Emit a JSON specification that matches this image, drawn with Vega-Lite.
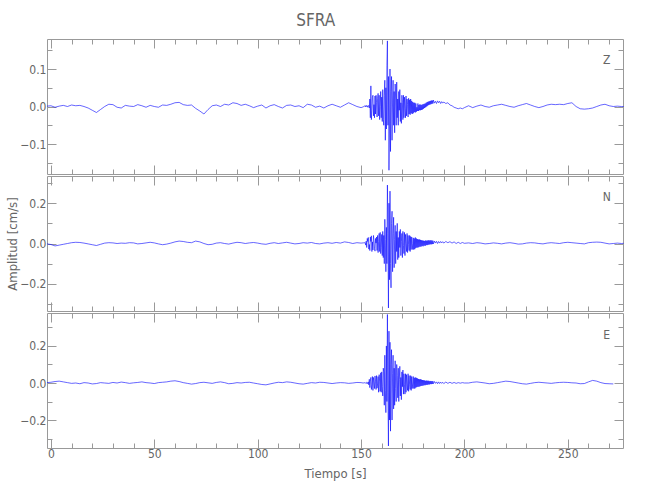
{
  "$schema": "https://vega.github.io/schema/vega-lite/v6.json",
  "padding": {"left": 6, "top": 11, "right": 20, "bottom": 18},
  "title": {"text": "SFRA", "fontSize": 17, "fontWeight": "normal", "color": "#666", "anchor": "middle", "offset": 9},
  "datasets": {
    "sig": [
      {"t":-1.9,"z":0.001,"n":-0.002,"e":0.002},
      {"t":0,"z":0.002,"n":-0.005,"e":0.004},{"t":2,"z":-0.002,"n":-0.012,"e":0.008},{"t":4,"z":0.001,"n":-0.008,"e":0.01},{"t":6,"z":0.003,"n":-0.004,"e":0.006},{"t":8,"z":0.0,"n":0.0,"e":0.002},
      {"t":10,"z":0.004,"n":0.004,"e":-0.002},{"t":12,"z":0.002,"n":0.006,"e":0.0},{"t":14,"z":0.003,"n":0.005,"e":-0.004},{"t":16,"z":0.0,"n":0.002,"e":0.002},{"t":18,"z":-0.004,"n":-0.002,"e":0.0},
      {"t":20,"z":-0.01,"n":-0.006,"e":-0.005},{"t":22,"z":-0.016,"n":-0.01,"e":-0.003},{"t":24,"z":-0.008,"n":-0.004,"e":0.002},{"t":26,"z":0.0,"n":0.002,"e":0.0},{"t":28,"z":0.006,"n":0.004,"e":-0.002},
      {"t":30,"z":0.005,"n":0.003,"e":0.003},{"t":32,"z":-0.002,"n":0.0,"e":0.0},{"t":34,"z":-0.004,"n":0.002,"e":0.005},{"t":36,"z":0.003,"n":0.001,"e":0.002},{"t":38,"z":0.001,"n":0.004,"e":-0.002},
      {"t":40,"z":0.0,"n":0.003,"e":0.001},{"t":42,"z":0.005,"n":-0.002,"e":0.003},{"t":44,"z":0.002,"n":0.0,"e":0.006},{"t":46,"z":-0.002,"n":0.003,"e":0.002},{"t":48,"z":0.003,"n":0.006,"e":0.0},
      {"t":50,"z":0.0,"n":0.003,"e":-0.003},{"t":52,"z":-0.002,"n":-0.002,"e":0.002},{"t":54,"z":0.004,"n":-0.006,"e":0.004},{"t":56,"z":0.003,"n":-0.003,"e":0.006},{"t":58,"z":0.006,"n":0.002,"e":0.01},
      {"t":60,"z":0.01,"n":0.008,"e":0.012},{"t":62,"z":0.011,"n":0.012,"e":0.008},{"t":64,"z":0.005,"n":0.01,"e":0.002},{"t":66,"z":0.003,"n":0.006,"e":-0.002},{"t":68,"z":0.004,"n":0.004,"e":-0.006},
      {"t":70,"z":-0.005,"n":0.012,"e":-0.003},{"t":72,"z":-0.012,"n":0.008,"e":0.002},{"t":74,"z":-0.02,"n":0.0,"e":0.004},{"t":76,"z":-0.008,"n":-0.006,"e":0.001},{"t":78,"z":0.002,"n":-0.004,"e":-0.002},
      {"t":80,"z":0.004,"n":0.002,"e":0.003},{"t":82,"z":0.0,"n":0.004,"e":0.006},{"t":84,"z":0.006,"n":0.0,"e":0.002},{"t":86,"z":0.004,"n":-0.003,"e":-0.004},{"t":88,"z":0.01,"n":0.002,"e":-0.002},
      {"t":90,"z":0.008,"n":0.006,"e":0.002},{"t":92,"z":0.003,"n":0.004,"e":0.0},{"t":94,"z":0.006,"n":0.0,"e":0.003},{"t":96,"z":0.002,"n":0.003,"e":0.004},{"t":98,"z":-0.003,"n":0.005,"e":0.0},
      {"t":100,"z":0.001,"n":0.002,"e":-0.004},{"t":102,"z":0.004,"n":-0.002,"e":-0.008},{"t":104,"z":-0.004,"n":-0.004,"e":-0.01},{"t":106,"z":0.002,"n":0.001,"e":-0.005},{"t":108,"z":0.005,"n":0.004,"e":0.0},
      {"t":110,"z":0.0,"n":0.0,"e":0.004},{"t":112,"z":-0.004,"n":0.003,"e":0.002},{"t":114,"z":0.003,"n":0.006,"e":0.006},{"t":116,"z":0.004,"n":0.002,"e":0.004},{"t":118,"z":0.0,"n":-0.002,"e":0.0},
      {"t":120,"z":0.002,"n":0.0,"e":-0.004},{"t":122,"z":-0.003,"n":0.004,"e":-0.006},{"t":124,"z":0.006,"n":0.002,"e":-0.002},{"t":126,"z":0.004,"n":0.005,"e":0.002},{"t":128,"z":-0.002,"n":0.0,"e":0.0},
      {"t":130,"z":0.001,"n":-0.002,"e":0.004},{"t":132,"z":-0.004,"n":0.002,"e":0.003},{"t":134,"z":0.002,"n":0.004,"e":0.0},{"t":136,"z":0.006,"n":0.001,"e":-0.003},{"t":138,"z":0.002,"n":0.005,"e":0.0},
      {"t":140,"z":-0.002,"n":0.002,"e":0.002},{"t":142,"z":0.004,"n":0.008,"e":0.001},{"t":144,"z":0.01,"n":0.005,"e":-0.002},{"t":146,"z":0.005,"n":0.0,"e":0.0},{"t":148,"z":0.0,"n":0.004,"e":0.003},
      {"t":150,"z":-0.003,"n":0.002,"e":0.002},{"t":151,"z":-0.001,"n":0.003,"e":0.0},
      {"t":152,"z":0.002,"n":0.004,"e":0.002},{"t":152.25,"z":-0.001,"n":-0.008,"e":0.0},{"t":152.5,"z":0.003,"n":0.012,"e":-0.003},{"t":152.75,"z":0.0,"n":-0.02,"e":0.004},
      {"t":153,"z":0.002,"n":0.025,"e":0.002},{"t":153.25,"z":-0.002,"n":0.01,"e":-0.004},{"t":153.5,"z":0.001,"n":0.03,"e":0.006},{"t":153.75,"z":0.003,"n":-0.028,"e":-0.01},
      {"t":154,"z":-0.004,"n":-0.005,"e":0.02},{"t":154.25,"z":0.02,"n":-0.035,"e":-0.025},{"t":154.5,"z":-0.03,"n":0.032,"e":0.01},{"t":154.75,"z":0.055,"n":0.01,"e":0.03},
      {"t":155,"z":-0.035,"n":0.038,"e":-0.035},{"t":155.25,"z":-0.01,"n":-0.04,"e":-0.01},{"t":155.5,"z":0.025,"n":0.008,"e":0.035},{"t":155.75,"z":0.03,"n":-0.032,"e":-0.04},
      {"t":156,"z":-0.025,"n":0.04,"e":0.03},{"t":156.25,"z":0.005,"n":0.015,"e":0.005},{"t":156.5,"z":-0.03,"n":-0.025,"e":-0.03},{"t":156.75,"z":0.028,"n":-0.038,"e":0.038},
      {"t":157,"z":-0.02,"n":0.025,"e":0.01},{"t":157.25,"z":0.03,"n":0.002,"e":-0.035},{"t":157.5,"z":0.01,"n":0.032,"e":0.04},{"t":157.75,"z":-0.028,"n":-0.035,"e":-0.028},
      {"t":158,"z":0.022,"n":0.04,"e":-0.005},{"t":158.25,"z":0.035,"n":-0.045,"e":0.035},{"t":158.5,"z":-0.025,"n":0.01,"e":-0.05},{"t":158.75,"z":0.03,"n":0.05,"e":0.045},
      {"t":159,"z":-0.035,"n":-0.04,"e":0.01},{"t":159.25,"z":0.0,"n":0.055,"e":-0.045},{"t":159.5,"z":0.04,"n":-0.05,"e":0.055},{"t":159.75,"z":-0.03,"n":-0.02,"e":-0.05},
      {"t":160,"z":0.025,"n":0.045,"e":0.06},{"t":160.25,"z":-0.04,"n":-0.06,"e":-0.02},{"t":160.5,"z":0.045,"n":0.06,"e":-0.07},{"t":160.75,"z":-0.035,"n":-0.07,"e":0.08},
      {"t":161,"z":-0.05,"n":0.04,"e":0.06},{"t":161.25,"z":0.03,"n":-0.1,"e":-0.12},{"t":161.5,"z":0.07,"n":0.12,"e":0.15},{"t":161.75,"z":-0.09,"n":0.02,"e":-0.04},
      {"t":162,"z":0.05,"n":-0.14,"e":-0.16},{"t":162.25,"z":-0.06,"n":0.08,"e":0.2},{"t":162.5,"z":0.11,"n":-0.1,"e":-0.1},{"t":162.75,"z":0.175,"n":0.29,"e":0.37},
      {"t":163,"z":-0.05,"n":0.05,"e":-0.05},{"t":163.25,"z":0.08,"n":-0.32,"e":-0.34},{"t":163.5,"z":-0.17,"n":0.2,"e":0.28},{"t":163.75,"z":-0.06,"n":-0.18,"e":-0.2},
      {"t":164,"z":0.1,"n":0.26,"e":0.22},{"t":164.25,"z":-0.12,"n":-0.1,"e":-0.26},{"t":164.5,"z":0.04,"n":-0.22,"e":0.1},{"t":164.75,"z":0.08,"n":0.1,"e":0.18},
      {"t":165,"z":-0.09,"n":0.16,"e":-0.2},{"t":165.25,"z":0.02,"n":-0.14,"e":0.05},{"t":165.5,"z":0.07,"n":0.05,"e":0.15},{"t":165.75,"z":-0.05,"n":0.13,"e":-0.14},
      {"t":166,"z":0.04,"n":-0.12,"e":0.08},{"t":166.25,"z":-0.07,"n":0.02,"e":-0.12},{"t":166.5,"z":0.06,"n":0.09,"e":0.12},{"t":166.75,"z":0.02,"n":-0.1,"e":-0.03},
      {"t":167,"z":-0.05,"n":0.06,"e":-0.1},{"t":167.25,"z":0.065,"n":-0.04,"e":0.1},{"t":167.5,"z":-0.03,"n":0.1,"e":0.04},{"t":167.75,"z":0.02,"n":-0.08,"e":-0.08},
      {"t":168,"z":-0.05,"n":0.03,"e":0.08},{"t":168.25,"z":0.04,"n":-0.07,"e":-0.1},{"t":168.5,"z":-0.01,"n":0.06,"e":0.02},{"t":168.75,"z":0.045,"n":-0.02,"e":0.09},
      {"t":169,"z":-0.04,"n":0.07,"e":-0.07},{"t":169.25,"z":0.01,"n":-0.06,"e":0.03},{"t":169.5,"z":-0.045,"n":0.01,"e":-0.09},{"t":169.75,"z":0.03,"n":0.05,"e":0.06},
      {"t":170,"z":0.01,"n":-0.07,"e":-0.02},{"t":170.25,"z":-0.035,"n":0.06,"e":0.07},{"t":170.5,"z":0.03,"n":-0.01,"e":-0.06},{"t":170.75,"z":-0.03,"n":-0.05,"e":0.05},
      {"t":171,"z":0.025,"n":0.055,"e":-0.01},{"t":171.25,"z":-0.005,"n":-0.06,"e":-0.06},{"t":171.5,"z":-0.03,"n":0.045,"e":0.05},{"t":171.75,"z":0.028,"n":0.0,"e":-0.05},
      {"t":172,"z":-0.025,"n":-0.04,"e":0.045},{"t":172.25,"z":0.02,"n":0.05,"e":0.0},{"t":172.5,"z":0.005,"n":-0.045,"e":-0.04},{"t":172.75,"z":-0.028,"n":0.04,"e":0.05},
      {"t":173,"z":0.022,"n":-0.005,"e":-0.045},{"t":173.25,"z":-0.02,"n":-0.035,"e":0.04},{"t":173.5,"z":0.018,"n":0.04,"e":-0.01},{"t":173.75,"z":-0.022,"n":-0.04,"e":-0.035},
      {"t":174,"z":0.02,"n":0.035,"e":0.04},{"t":174.25,"z":-0.018,"n":-0.03,"e":-0.04},{"t":174.5,"z":0.015,"n":0.032,"e":0.035},{"t":174.75,"z":-0.02,"n":0.0,"e":-0.03},
      {"t":175,"z":0.012,"n":-0.03,"e":0.0},{"t":175.25,"z":-0.018,"n":0.028,"e":0.035},{"t":175.5,"z":0.01,"n":-0.03,"e":-0.03},{"t":175.75,"z":-0.015,"n":0.025,"e":0.028},
      {"t":176,"z":0.01,"n":-0.028,"e":-0.03},{"t":176.25,"z":-0.016,"n":0.03,"e":0.03},{"t":176.5,"z":0.008,"n":-0.022,"e":-0.025},{"t":176.75,"z":-0.014,"n":0.025,"e":0.028},
      {"t":177,"z":-0.002,"n":-0.02,"e":-0.022},{"t":177.25,"z":-0.012,"n":0.022,"e":0.025},{"t":177.5,"z":0.008,"n":-0.02,"e":-0.02},{"t":177.75,"z":-0.012,"n":0.02,"e":0.022},
      {"t":178,"z":0.004,"n":-0.018,"e":-0.02},{"t":178.25,"z":-0.01,"n":0.02,"e":0.02},{"t":178.5,"z":0.006,"n":-0.015,"e":-0.018},{"t":178.75,"z":-0.01,"n":0.018,"e":0.02},
      {"t":179,"z":0.004,"n":-0.016,"e":-0.016},{"t":179.25,"z":-0.009,"n":0.016,"e":0.018},{"t":179.5,"z":0.005,"n":-0.012,"e":-0.015},{"t":179.75,"z":-0.008,"n":0.015,"e":0.016},
      {"t":180,"z":0.006,"n":-0.014,"e":-0.014},{"t":180.25,"z":-0.006,"n":0.014,"e":0.015},{"t":180.5,"z":0.007,"n":-0.01,"e":-0.012},{"t":180.75,"z":-0.004,"n":0.013,"e":0.014},
      {"t":181,"z":0.008,"n":-0.012,"e":-0.012},{"t":181.25,"z":-0.002,"n":0.015,"e":0.012},{"t":181.5,"z":0.01,"n":-0.008,"e":-0.01},{"t":181.75,"z":0.0,"n":0.014,"e":0.013},
      {"t":182,"z":0.012,"n":-0.008,"e":-0.01},{"t":182.25,"z":0.002,"n":0.015,"e":0.012},{"t":182.5,"z":0.013,"n":-0.006,"e":-0.008},{"t":182.75,"z":0.004,"n":0.016,"e":0.012},
      {"t":183,"z":0.014,"n":-0.005,"e":-0.008},{"t":183.25,"z":0.005,"n":0.015,"e":0.01},{"t":183.5,"z":0.015,"n":-0.004,"e":-0.006},{"t":183.75,"z":0.006,"n":0.016,"e":0.011},
      {"t":184,"z":0.016,"n":-0.004,"e":-0.006},{"t":184.25,"z":0.007,"n":0.015,"e":0.01},{"t":184.5,"z":0.016,"n":-0.003,"e":-0.005},{"t":184.75,"z":0.008,"n":0.014,"e":0.01},
      {"t":185,"z":0.017,"n":-0.002,"e":-0.004},
      {"t":185.5,"z":0.009,"n":0.012,"e":0.008},{"t":186,"z":0.014,"n":0.002,"e":-0.002},{"t":186.5,"z":0.008,"n":0.011,"e":0.006},{"t":187,"z":0.015,"n":0.0,"e":-0.004},{"t":187.5,"z":0.01,"n":0.01,"e":0.006},
      {"t":188,"z":0.014,"n":0.002,"e":-0.003},{"t":188.5,"z":0.008,"n":0.01,"e":0.005},{"t":189,"z":0.013,"n":0.003,"e":-0.002},{"t":189.5,"z":0.009,"n":0.009,"e":0.004},{"t":190,"z":0.012,"n":0.002,"e":-0.003},
      {"t":191,"z":0.008,"n":0.01,"e":0.005},{"t":192,"z":0.01,"n":0.004,"e":-0.002},{"t":193,"z":0.004,"n":0.009,"e":0.004},{"t":194,"z":0.002,"n":0.002,"e":-0.002},{"t":195,"z":-0.002,"n":0.008,"e":0.003},
      {"t":196,"z":-0.004,"n":0.0,"e":-0.002},{"t":197,"z":-0.006,"n":0.006,"e":0.002},{"t":198,"z":-0.004,"n":0.0,"e":-0.001},{"t":199,"z":-0.006,"n":0.005,"e":0.002},{"t":200,"z":-0.003,"n":0.001,"e":0.0},
      {"t":202,"z":0.002,"n":0.003,"e":0.0},{"t":204,"z":-0.003,"n":0.0,"e":0.004},{"t":206,"z":0.001,"n":0.004,"e":0.006},{"t":208,"z":0.004,"n":0.002,"e":0.003},{"t":210,"z":0.0,"n":-0.002,"e":0.0},
      {"t":212,"z":-0.002,"n":0.0,"e":-0.004},{"t":214,"z":0.002,"n":0.003,"e":-0.002},{"t":216,"z":0.004,"n":0.001,"e":0.002},{"t":218,"z":0.006,"n":-0.002,"e":0.006},{"t":220,"z":0.003,"n":0.002,"e":0.01},
      {"t":222,"z":0.0,"n":0.004,"e":0.008},{"t":224,"z":-0.002,"n":0.001,"e":0.004},{"t":226,"z":0.002,"n":-0.003,"e":0.0},{"t":228,"z":0.005,"n":-0.002,"e":-0.004},{"t":230,"z":0.008,"n":0.002,"e":-0.006},
      {"t":232,"z":0.004,"n":0.004,"e":-0.002},{"t":234,"z":0.0,"n":0.003,"e":0.002},{"t":236,"z":-0.003,"n":0.0,"e":0.004},{"t":238,"z":0.0,"n":-0.002,"e":0.002},{"t":240,"z":0.004,"n":0.002,"e":0.0},
      {"t":242,"z":0.006,"n":0.004,"e":-0.002},{"t":244,"z":0.005,"n":0.002,"e":0.001},{"t":246,"z":0.006,"n":0.0,"e":0.003},{"t":248,"z":0.005,"n":0.004,"e":0.004},{"t":250,"z":0.008,"n":0.006,"e":0.003},
      {"t":252,"z":0.01,"n":0.004,"e":0.001},{"t":254,"z":0.0,"n":0.002,"e":0.0},{"t":256,"z":-0.006,"n":0.0,"e":-0.004},{"t":258,"z":-0.007,"n":-0.002,"e":-0.003},{"t":260,"z":-0.006,"n":0.004,"e":0.006},
      {"t":262,"z":-0.004,"n":0.006,"e":0.014},{"t":264,"z":0.0,"n":0.007,"e":0.01},{"t":266,"z":0.004,"n":0.006,"e":0.002},{"t":268,"z":0.006,"n":0.002,"e":-0.003},{"t":270,"z":0.002,"n":-0.002,"e":-0.004},
      {"t":272,"z":0.0,"n":0.0,"e":-0.005},{"t":274,"z":0.001,"n":0.002,"e":null},{"t":276,"z":0.0,"n":0.0,"e":null},{"t":277,"z":0.0,"n":0.001,"e":null}
    ]
  },
  "vconcat": [
    {
      "width": 576, "height": 135,
      "layer": [
        {
          "data": {"name": "sig"},
          "mark": {"type": "line", "color": "#0000ff", "strokeWidth": 0.6},
          "encoding": {
            "x": {"field": "t", "type": "quantitative", "scale": {"domain": [-1.9, 276.7], "nice": false, "zero": false},
                  "axis": {"orient": "bottom", "values": [0,10,20,30,40,50,60,70,80,90,100,110,120,130,140,150,160,170,180,190,200,210,220,230,240,250,260,270], "labels": false, "title": null,
                           "tickSize": {"condition": {"test": "datum.value % 50 === 0", "value": -9}, "value": -5}}},
            "y": {"field": "z", "type": "quantitative", "scale": {"domain": [-0.18, 0.18], "nice": false, "zero": false},
                  "axis": {"orient": "left", "values": [-0.15,-0.1,-0.05,0,0.05,0.1,0.15], "format": ".1f", "title": null,
                           "labelExpr": "abs(datum.value*10 - round(datum.value*10)) < 0.01 ? datum.label : ''",
                           "tickSize": {"condition": {"test": "abs(datum.value*10 - round(datum.value*10)) < 0.01", "value": -9}, "value": -5}}}
          }
        },
        {
          "data": {"name": "sig"},
          "mark": {"type": "line", "opacity": 0},
          "encoding": {
            "x": {"field": "t", "type": "quantitative",
                  "axis": {"orient": "top", "values": [0,10,20,30,40,50,60,70,80,90,100,110,120,130,140,150,160,170,180,190,200,210,220,230,240,250,260,270], "labels": false, "title": null,
                           "tickSize": {"condition": {"test": "datum.value % 50 === 0", "value": -9}, "value": -5}}},
            "y": {"field": "z", "type": "quantitative",
                  "axis": {"orient": "right", "values": [-0.15,-0.1,-0.05,0,0.05,0.1,0.15], "labels": false, "title": null,
                           "tickSize": {"condition": {"test": "abs(datum.value*10 - round(datum.value*10)) < 0.01", "value": -9}, "value": -5}}}
          }
        },
        {
          "data": {"values": [{"lab": "Z"}]},
          "mark": {"type": "text", "fontSize": 12, "color": "#666"},
          "encoding": {
            "x": {"datum": 268.8, "type": "quantitative", "axis": null},
            "y": {"datum": 0.125, "type": "quantitative", "axis": null},
            "text": {"field": "lab"}
          }
        }
      ],
      "resolve": {"axis": {"x": "independent", "y": "independent"}}
    },
    {
      "width": 576, "height": 135,
      "layer": [
        {
          "data": {"name": "sig"},
          "mark": {"type": "line", "color": "#0000ff", "strokeWidth": 0.6},
          "encoding": {
            "x": {"field": "t", "type": "quantitative", "scale": {"domain": [-1.9, 276.7], "nice": false, "zero": false},
                  "axis": {"orient": "bottom", "values": [0,10,20,30,40,50,60,70,80,90,100,110,120,130,140,150,160,170,180,190,200,210,220,230,240,250,260,270], "labels": false, "title": null,
                           "tickSize": {"condition": {"test": "datum.value % 50 === 0", "value": -9}, "value": -5}}},
            "y": {"field": "n", "type": "quantitative", "scale": {"domain": [-0.335, 0.335], "nice": false, "zero": false},
                  "axis": {"orient": "left", "values": [-0.3,-0.2,-0.1,0,0.1,0.2,0.3], "format": ".1f", "title": "Amplitud [cm/s]",
                           "labelExpr": "abs(datum.value*5 - round(datum.value*5)) < 0.01 ? datum.label : ''",
                           "tickSize": {"condition": {"test": "abs(datum.value*5 - round(datum.value*5)) < 0.01", "value": -9}, "value": -5}}}
          }
        },
        {
          "data": {"name": "sig"},
          "mark": {"type": "line", "opacity": 0},
          "encoding": {
            "x": {"field": "t", "type": "quantitative",
                  "axis": {"orient": "top", "values": [0,10,20,30,40,50,60,70,80,90,100,110,120,130,140,150,160,170,180,190,200,210,220,230,240,250,260,270], "labels": false, "title": null,
                           "tickSize": {"condition": {"test": "datum.value % 50 === 0", "value": -9}, "value": -5}}},
            "y": {"field": "n", "type": "quantitative",
                  "axis": {"orient": "right", "values": [-0.3,-0.2,-0.1,0,0.1,0.2,0.3], "labels": false, "title": null,
                           "tickSize": {"condition": {"test": "abs(datum.value*5 - round(datum.value*5)) < 0.01", "value": -9}, "value": -5}}}
          }
        },
        {
          "data": {"values": [{"lab": "N"}]},
          "mark": {"type": "text", "fontSize": 12, "color": "#666"},
          "encoding": {
            "x": {"datum": 268.8, "type": "quantitative", "axis": null},
            "y": {"datum": 0.232, "type": "quantitative", "axis": null},
            "text": {"field": "lab"}
          }
        }
      ],
      "resolve": {"axis": {"x": "independent", "y": "independent"}}
    },
    {
      "width": 576, "height": 135,
      "layer": [
        {
          "data": {"name": "sig"},
          "mark": {"type": "line", "color": "#0000ff", "strokeWidth": 0.6},
          "encoding": {
            "x": {"field": "t", "type": "quantitative", "scale": {"domain": [-1.9, 276.7], "nice": false, "zero": false},
                  "axis": {"orient": "bottom", "values": [0,10,20,30,40,50,60,70,80,90,100,110,120,130,140,150,160,170,180,190,200,210,220,230,240,250,260,270], "title": "Tiempo [s]",
                           "labelExpr": "datum.value % 50 === 0 ? datum.label : ''",
                           "tickSize": {"condition": {"test": "datum.value % 50 === 0", "value": -9}, "value": -5}}},
            "y": {"field": "e", "type": "quantitative", "scale": {"domain": [-0.351, 0.378], "nice": false, "zero": false},
                  "axis": {"orient": "left", "values": [-0.3,-0.2,-0.1,0,0.1,0.2,0.3], "format": ".1f", "title": null,
                           "labelExpr": "abs(datum.value*5 - round(datum.value*5)) < 0.01 ? datum.label : ''",
                           "tickSize": {"condition": {"test": "abs(datum.value*5 - round(datum.value*5)) < 0.01", "value": -9}, "value": -5}}}
          }
        },
        {
          "data": {"name": "sig"},
          "mark": {"type": "line", "opacity": 0},
          "encoding": {
            "x": {"field": "t", "type": "quantitative",
                  "axis": {"orient": "top", "values": [0,10,20,30,40,50,60,70,80,90,100,110,120,130,140,150,160,170,180,190,200,210,220,230,240,250,260,270], "labels": false, "title": null,
                           "tickSize": {"condition": {"test": "datum.value % 50 === 0", "value": -9}, "value": -5}}},
            "y": {"field": "e", "type": "quantitative",
                  "axis": {"orient": "right", "values": [-0.3,-0.2,-0.1,0,0.1,0.2,0.3], "labels": false, "title": null,
                           "tickSize": {"condition": {"test": "abs(datum.value*5 - round(datum.value*5)) < 0.01", "value": -9}, "value": -5}}}
          }
        },
        {
          "data": {"values": [{"lab": "E"}]},
          "mark": {"type": "text", "fontSize": 12, "color": "#666"},
          "encoding": {
            "x": {"datum": 268.8, "type": "quantitative", "axis": null},
            "y": {"datum": 0.261, "type": "quantitative", "axis": null},
            "text": {"field": "lab"}
          }
        }
      ],
      "resolve": {"axis": {"x": "independent", "y": "independent"}}
    }
  ],
  "config": {
    "font": "Liberation Sans Narrow, DejaVu Sans Condensed, Roboto, sans-serif",
    "view": {"stroke": null},
    "concat": {"spacing": 0},
    "axis": {"grid": false, "domainColor": "#999", "tickColor": "#999", "domainWidth": 1, "tickWidth": 1,
             "labelColor": "#666", "labelFontSize": 12,
             "titleColor": "#666", "titleFontSize": 13, "titleFontWeight": "normal"},
    "axisX": {"labelPadding": 9, "titlePadding": 8},
    "axisY": {"labelPadding": 10, "titlePadding": 0}
  }
}
